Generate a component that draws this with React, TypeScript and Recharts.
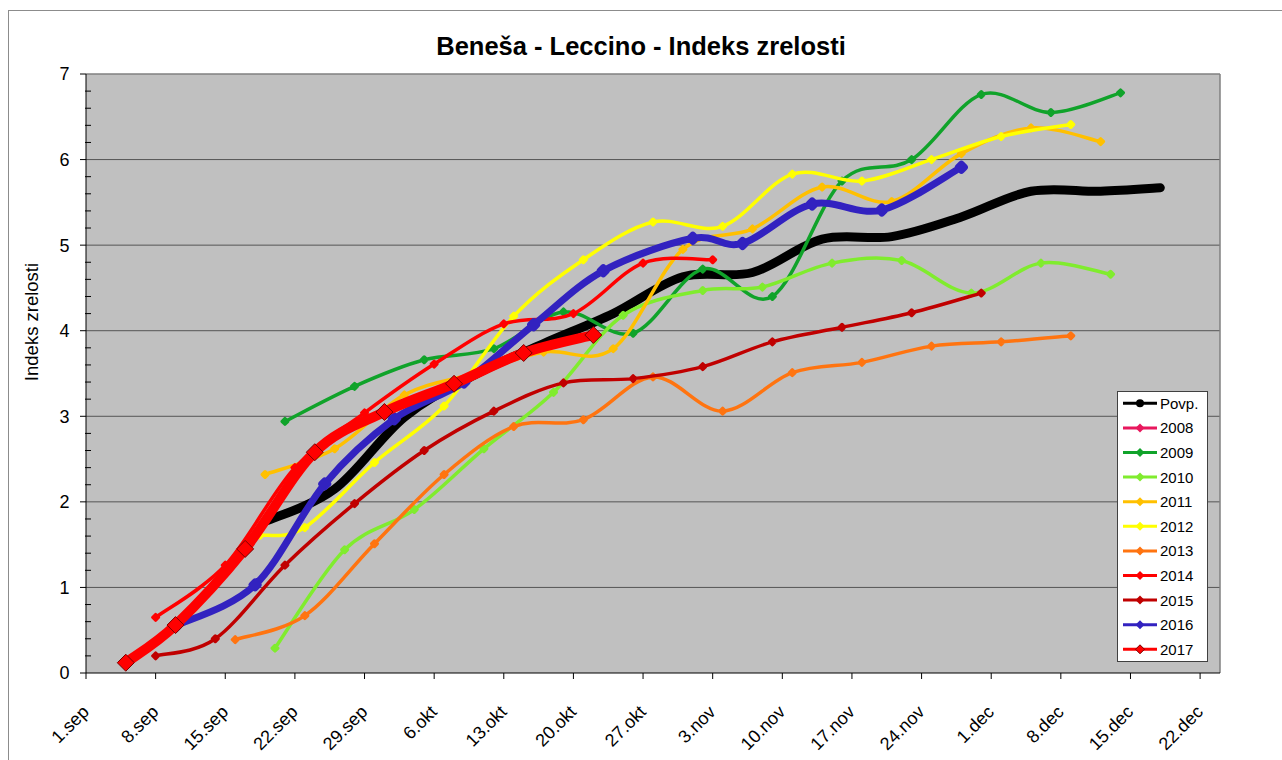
import React from 'react';
import { LineChart, Line, XAxis, YAxis, CartesianGrid, ReferenceLine, Legend } from 'recharts';

const FONT = '"Liberation Sans", Arial, Helvetica, sans-serif';

// x = days after 1. september
const xTicks = [0, 7, 14, 21, 28, 35, 42, 49, 56, 63, 70, 77, 84, 91, 98, 105, 112];
const xTickLabels = ['1.sep', '8.sep', '15.sep', '22.sep', '29.sep', '6.okt', '13.okt', '20.okt', '27.okt', '3.nov', '10.nov', '17.nov', '24.nov', '1.dec', '8.dec', '15.dec', '22.dec'];
const yMajorTicks = [0, 1, 2, 3, 4, 5, 6, 7];
const gridValues = [1, 2, 3, 4, 5, 6];

const povpDays = [18, 25, 32, 39, 46, 53, 60, 67, 74, 81, 88, 95, 102, 108];
const povpVals = [1.77, 2.15, 2.99, 3.48, 3.85, 4.2, 4.63, 4.68, 5.07, 5.1, 5.33, 5.63, 5.63, 5.67];

const y2008Days: number[] = [];
const y2008Vals: number[] = [];

const y2009Days = [20, 27, 34, 41, 48, 55, 62, 69, 76, 83, 90, 97, 104];
const y2009Vals = [2.94, 3.35, 3.66, 3.79, 4.22, 3.97, 4.72, 4.4, 5.75, 6.0, 6.76, 6.55, 6.78];

const y2010Days = [19, 26, 33, 40, 47, 54, 62, 68, 75, 82, 89, 96, 103];
const y2010Vals = [0.29, 1.44, 1.91, 2.62, 3.28, 4.18, 4.47, 4.51, 4.79, 4.82, 4.44, 4.79, 4.66];

const y2011Days = [18, 25, 32, 39, 46, 53, 60, 67, 74, 81, 88, 95, 102];
const y2011Vals = [2.32, 2.62, 3.25, 3.5, 3.75, 3.79, 4.95, 5.19, 5.68, 5.51, 6.07, 6.37, 6.21];

const y2012Days = [17.5, 22, 29, 36, 43, 50, 57, 64, 71, 78, 85, 92, 99];
const y2012Vals = [1.61, 1.7, 2.46, 3.12, 4.17, 4.83, 5.27, 5.22, 5.83, 5.75, 6.0, 6.27, 6.41];

const y2013Days = [15, 22, 29, 36, 43, 50, 57, 64, 71, 78, 85, 92, 99];
const y2013Vals = [0.39, 0.67, 1.51, 2.32, 2.88, 2.96, 3.46, 3.06, 3.51, 3.63, 3.82, 3.87, 3.94];

const y2014Days = [7, 14, 21, 28, 35, 42, 49, 56, 63];
const y2014Vals = [0.65, 1.26, 2.4, 3.04, 3.61, 4.08, 4.2, 4.79, 4.83];

const y2015Days = [7, 13, 20, 27, 34, 41, 48, 55, 62, 69, 76, 83, 90];
const y2015Vals = [0.2, 0.4, 1.26, 1.98, 2.6, 3.06, 3.39, 3.44, 3.58, 3.87, 4.04, 4.21, 4.44];

const y2016Days = [9, 17, 24, 31, 38, 45, 52, 61, 66, 73, 80, 88];
const y2016Vals = [0.55, 1.03, 2.21, 2.97, 3.4, 4.07, 4.7, 5.08, 5.02, 5.48, 5.41, 5.91];

const y2017Days = [4, 9, 16, 23, 30, 37, 44, 51];
const y2017Vals = [0.12, 0.56, 1.45, 2.58, 3.05, 3.38, 3.74, 3.95];

const PLOT_LEFT = 86;
const PLOT_BOTTOM = 673;

const toPoints = (days: number[], vals: number[]) => days.map((d, i) => ({ d, v: vals[i] }));

// Excel-like smoothed line (Catmull-Rom bezier). Small diamond markers are
// added to the same path so that later series cover them, like in Excel.
const makeCurve = (markerSize: number) =>
  function excelCurve(context: any) {
    let pts: number[][] = [];
    return {
      areaStart() {},
      areaEnd() {},
      lineStart() {
        pts = [];
      },
      point(x: number, y: number) {
        pts.push([+x, +y]);
      },
      lineEnd() {
        const n = pts.length;
        if (!n) return;
        context.moveTo(pts[0][0], pts[0][1]);
        for (let i = 0; i < n - 1; i++) {
          const p0 = pts[Math.max(i - 1, 0)];
          const p1 = pts[i];
          const p2 = pts[i + 1];
          const p3 = pts[Math.min(i + 2, n - 1)];
          context.bezierCurveTo(
            p1[0] + (p2[0] - p0[0]) / 6,
            p1[1] + (p2[1] - p0[1]) / 6,
            p2[0] - (p3[0] - p1[0]) / 6,
            p2[1] - (p3[1] - p1[1]) / 6,
            p2[0],
            p2[1]
          );
        }
        if (markerSize > 0) {
          const s = markerSize;
          pts.forEach(([x, y]) => {
            context.moveTo(x, y - s);
            context.lineTo(x + s, y);
            context.lineTo(x, y + s);
            context.lineTo(x - s, y);
            context.closePath();
          });
        }
      },
    };
  };

type Marker = 'circle' | 'diamond';

type Series = {
  name: string;
  color: string;
  width: number;
  marker: Marker;
  size: number; // marker size drawn inside the curve path
  bigDot?: number; // separate outlined dot (top series only)
  markerStroke?: string;
  days: number[];
  vals: number[];
};

const series: Series[] = [
  { name: 'Povp.', color: '#000000', width: 9, marker: 'circle', size: 0, days: povpDays, vals: povpVals },
  { name: '2008', color: '#E8175D', width: 3.5, marker: 'diamond', size: 2.7, days: y2008Days, vals: y2008Vals },
  { name: '2009', color: '#10A32A', width: 3.5, marker: 'diamond', size: 2.7, days: y2009Days, vals: y2009Vals },
  { name: '2010', color: '#80EC2E', width: 3.5, marker: 'diamond', size: 2.7, days: y2010Days, vals: y2010Vals },
  { name: '2011', color: '#FFC000', width: 3.5, marker: 'diamond', size: 2.7, days: y2011Days, vals: y2011Vals },
  { name: '2012', color: '#FFFF00', width: 3.5, marker: 'diamond', size: 2.7, days: y2012Days, vals: y2012Vals },
  { name: '2013', color: '#FF7410', width: 3.5, marker: 'diamond', size: 2.7, days: y2013Days, vals: y2013Vals },
  { name: '2014', color: '#FF0000', width: 3.5, marker: 'diamond', size: 2.7, days: y2014Days, vals: y2014Vals },
  { name: '2015', color: '#C00000', width: 3.5, marker: 'diamond', size: 2.7, days: y2015Days, vals: y2015Vals },
  { name: '2016', color: '#3222C0', width: 7, marker: 'diamond', size: 3, days: y2016Days, vals: y2016Vals },
  { name: '2017', color: '#FF0000', width: 10, marker: 'diamond', size: 0, bigDot: 8.5, markerStroke: '#7A0000', days: y2017Days, vals: y2017Vals },
];

function markerShape(m: Marker, cx: number, cy: number, size: number, fill: string, stroke?: string, key?: string) {
  if (m === 'circle') {
    return <circle key={key} cx={cx} cy={cy} r={size} fill={fill} stroke={stroke ?? 'none'} />;
  }
  return (
    <path
      key={key}
      d={`M${cx},${cy - size}L${cx + size},${cy}L${cx},${cy + size}L${cx - size},${cy}Z`}
      fill={fill}
      stroke={stroke ?? 'none'}
      strokeWidth={1}
    />
  );
}

const makeDot = (s: Series) => (props: any) => {
  const { cx, cy, index } = props;
  if (cx == null || cy == null) return <g key={`e-${s.name}-${index}`} />;
  return markerShape(s.marker, cx, cy, s.bigDot ?? 5, s.color, s.markerStroke, `m-${s.name}-${index}`);
};

const yTicks: number[] = [];
yMajorTicks.forEach((t, i) => {
  yTicks.push(t);
  if (i < yMajorTicks.length - 1) {
    for (let k = 1; k < 5; k++) yTicks.push(+(t + k * 0.2).toFixed(1));
  }
});

const YTick = (props: any) => {
  const { y, payload } = props;
  const v = payload.value;
  const major = Math.abs(v - Math.round(v)) < 1e-6;
  if (!major) {
    return <line x1={PLOT_LEFT - 1} y1={y} x2={PLOT_LEFT + 5} y2={y} stroke="#000" strokeWidth={1} />;
  }
  return (
    <g>
      <line x1={PLOT_LEFT - 6} y1={y} x2={PLOT_LEFT} y2={y} stroke="#000" strokeWidth={1} />
      <text x={69.5} y={y} dy="0.36em" textAnchor="end" fontSize={18} fontFamily={FONT} fill="#000">
        {v}
      </text>
    </g>
  );
};

const XTick = (props: any) => {
  const { x, payload } = props;
  const label = xTickLabels[xTicks.indexOf(payload.value)];
  const tx = x + 4;
  const ty = PLOT_BOTTOM + 40;
  return (
    <g>
      <line x1={x} y1={PLOT_BOTTOM} x2={x} y2={PLOT_BOTTOM + 6} stroke="#000" strokeWidth={1} />
      <text
        x={tx}
        y={ty}
        textAnchor="end"
        transform={`rotate(-45 ${tx} ${ty})`}
        fontSize={18}
        fontFamily={FONT}
        fill="#000"
      >
        {label}
      </text>
    </g>
  );
};

const LegendBox = () => (
  <div style={{ width: 91, height: 271, boxSizing: 'border-box', border: '1px solid #404040', background: '#fff' }}>
    <svg width={89} height={269} style={{ display: 'block' }}>
      {series.map((s, i) => {
        const y = 11.3 + i * 24.6;
        return (
          <g key={s.name}>
            <line x1={5} y1={y} x2={39} y2={y} stroke={s.color} strokeWidth={3} />
            {markerShape(s.marker, 22, y, s.marker === 'circle' ? 4 : 4.5, s.color, s.markerStroke)}
            <text x={42} y={y} dy="0.36em" fontSize={15} fontFamily={FONT} fill="#000">
              {s.name}
            </text>
          </g>
        );
      })}
    </svg>
  </div>
);

export default function App() {
  return (
    <div style={{ position: 'absolute', left: 0, top: 0, width: 1282, height: 760, overflow: 'hidden', background: '#fff' }}>
      <div style={{ position: 'absolute', left: 8, top: 10, width: 1300, height: 800, border: '1px solid #8c8c8c' }} />
      <div
        style={{
          position: 'absolute',
          left: 0,
          top: 34,
          width: 1282,
          textAlign: 'center',
          fontFamily: FONT,
          fontWeight: 'bold',
          fontSize: 25.5,
          lineHeight: 1,
          color: '#000',
        }}
      >
        Beneša - Leccino - Indeks zrelosti
      </div>
      <div style={{ position: 'absolute', left: 0, top: 0 }}>
        <LineChart width={1282} height={760} margin={{ top: 74, right: 62, bottom: 7, left: 26 }}>
          <CartesianGrid fill="#C0C0C0" horizontal={false} vertical={false} />
          <XAxis
            type="number"
            dataKey="d"
            domain={[0, 114]}
            ticks={xTicks}
            interval={0}
            allowDataOverflow
            height={80}
            tickLine={false}
            axisLine={{ stroke: '#000' }}
            tick={<XTick />}
          />
          <YAxis
            type="number"
            domain={[0, 7]}
            ticks={yTicks}
            interval={0}
            allowDataOverflow
            width={60}
            tickLine={false}
            axisLine={{ stroke: '#000' }}
            tick={<YTick />}
            label={{
              value: 'Indeks zrelosti',
              content: () => (
                <text
                  x={38}
                  y={322}
                  transform="rotate(-90 38 322)"
                  textAnchor="middle"
                  fontSize={18.5}
                  fontFamily={FONT}
                  fill="#000"
                >
                  Indeks zrelosti
                </text>
              ),
            }}
          />
          {gridValues.map((g) => (
            <ReferenceLine key={g} y={g} stroke="#555" strokeWidth={1} />
          ))}
          <ReferenceLine y={7} stroke="#808080" strokeWidth={1.5} />
          <ReferenceLine x={114} stroke="#808080" strokeWidth={1.5} />
          {series.map((s) => (
            <Line
              key={s.name}
              name={s.name}
              data={toPoints(s.days, s.vals)}
              dataKey="v"
              type={makeCurve(s.size) as any}
              stroke={s.color}
              strokeWidth={s.width}
              strokeLinecap="round"
              strokeLinejoin="round"
              dot={s.bigDot ? makeDot(s) : false}
              activeDot={false}
              isAnimationActive={false}
            />
          ))}
          <Legend
            layout="vertical"
            align="center"
            verticalAlign="middle"
            wrapperStyle={{ left: 1117, top: 391, width: 91, height: 271 }}
            content={() => <LegendBox />}
          />
        </LineChart>
      </div>
    </div>
  );
}
